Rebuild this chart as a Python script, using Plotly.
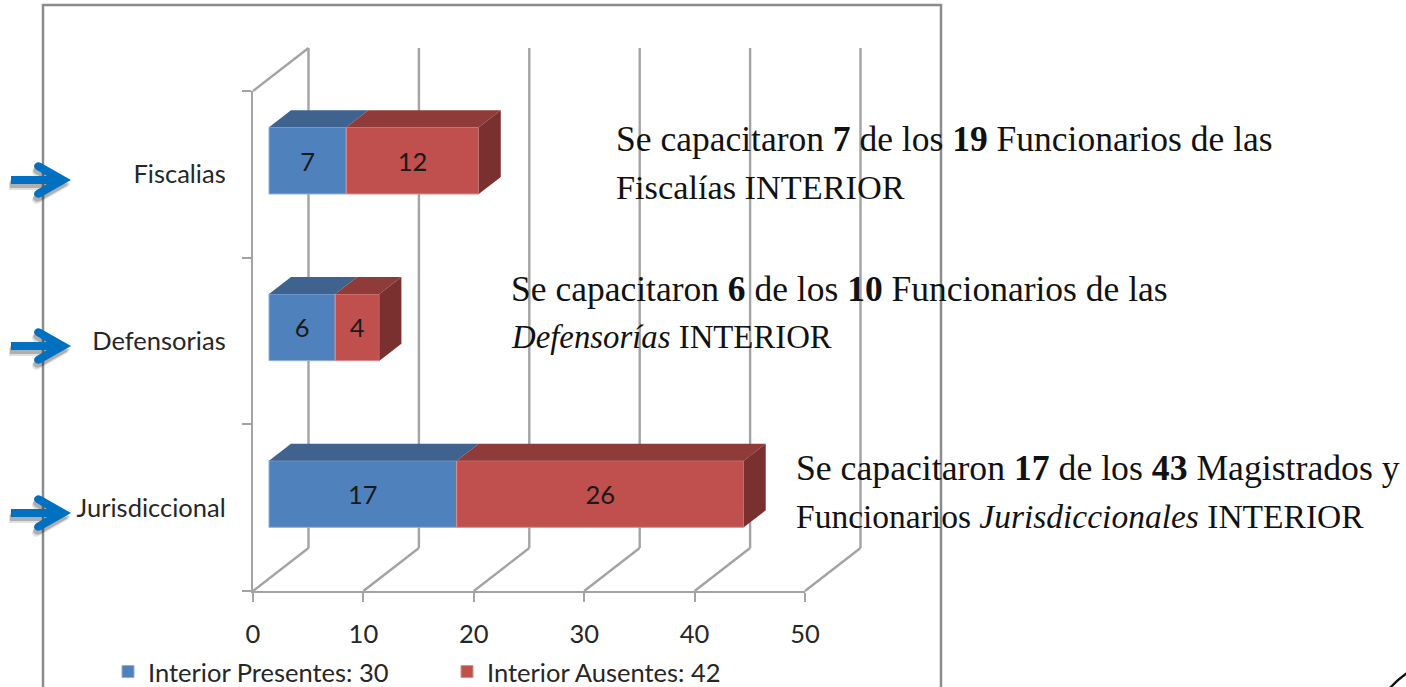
import plotly.graph_objects as go

categories = ["Jurisdiccional", "Defensorias", "Fiscalias"]
presentes = [17, 6, 7]
ausentes = [26, 4, 12]
legend_names = ["Interior Presentes: 30", "Interior Ausentes: 42"]
x_ticks = [0, 10, 20, 30, 40, 50]

note_lines = [
    "Se capacitaron <b>7</b> de los <b>19</b> Funcionarios de las",
    "Fiscalías INTERIOR",
    "Se capacitaron <b>6</b> de los <b>10</b> Funcionarios de las",
    "<i>Defensorías</i> INTERIOR",
    "Se capacitaron <b>17</b> de los <b>43</b> Magistrados y",
    "Funcionarios <i>Jurisdiccionales</i> INTERIOR",
]

NOTE_X = [616, 616, 511, 511, 796, 796]
NOTE_Y = [139, 187, 289, 337, 468, 516]
NOTE_SIZE = [35.5, 34.3, 35.5, 32.8, 35.7, 33.5]
ARROW_Y = [180, 346, 513]

W, H = 1406, 687
PX_X, PX_Y = 11.04, 166.67      # pixels per axis unit
X0, Y0 = 253, 591               # pixel of the axes origin
TOP = Y0 - 3 * PX_Y
RIGHT = 805

GRID = "#a3a3a3"
BLUE, BLUE_TOP = "#4f81bd", "#3f628f"
RED, RED_TOP, RED_SIDE = "#c0504d", "#8f3b39", "#7a302f"
CHART_FONT = "Lato"
CHART_SIZE = 25.5

centres = [0.582, 1.582, 2.582]
bar_h = 0.40
bar_off = 16 / PX_X
depth_x, depth_y = 22 / PX_X, 17 / PX_Y
wall_x, wall_y = 55.5 / PX_X, 43 / PX_Y
n_cat = len(categories)

fig = go.Figure()

# first subplot (drawn underneath): full-page axes with the chart's own scale, for the 3D walls
fig.add_scatter(x=[None], y=[None], xaxis="x", yaxis="y", showlegend=False, hoverinfo="skip")

starts_a = [bar_off + p for p in presentes]
fig.add_bar(y=centres, x=presentes, base=[bar_off] * n_cat, orientation="h", width=bar_h,
            xaxis="x2", yaxis="y2",
            marker=dict(color=BLUE, line=dict(color="#8fb0d8", width=1)), name=legend_names[0],
            text=presentes, textposition="inside", insidetextanchor="middle", textangle=0,
            hoverinfo="skip", cliponaxis=False)
fig.add_bar(y=centres, x=ausentes, base=starts_a, orientation="h", width=bar_h,
            xaxis="x2", yaxis="y2",
            marker=dict(color=RED, line=dict(color="#d58f8d", width=1)), name=legend_names[1],
            text=ausentes, textposition="inside", insidetextanchor="middle", textangle=0,
            hoverinfo="skip", cliponaxis=False)


def face(xs, ys, color):
    fig.add_scatter(x=xs, y=ys, xaxis="x2", yaxis="y2", mode="lines", fill="toself",
                    fillcolor=color, line=dict(width=0), showlegend=False, hoverinfo="skip",
                    cliponaxis=False)


for c, p, a, s in zip(centres, presentes, ausentes, starts_a):
    t = c + bar_h / 2
    b = c - bar_h / 2
    e = s + a
    face([bar_off, s, s + depth_x, bar_off + depth_x, bar_off],
         [t, t, t + depth_y, t + depth_y, t], BLUE_TOP)
    face([s, e, e + depth_x, s + depth_x, s],
         [t, t, t + depth_y, t + depth_y, t], RED_TOP)
    face([e, e + depth_x, e + depth_x, e, e],
         [t, t + depth_y, b + depth_y, b, t], RED_SIDE)

shapes = []
line = dict(color=GRID, width=2.4)
top_back = 3 + wall_y
for v in x_ticks:
    shapes.append(dict(type="line", xref="x", yref="y", x0=v, y0=0, x1=v + wall_x, y1=wall_y,
                       line=line, layer="below"))
    shapes.append(dict(type="line", xref="x", yref="y", x0=v + wall_x, y0=wall_y,
                       x1=v + wall_x, y1=top_back, line=line, layer="below"))
shapes.append(dict(type="line", xref="x", yref="y", x0=0, y0=3, x1=wall_x, y1=top_back,
                   line=line, layer="below"))

# picture frame, corner mark and arrows in pixel coordinates of the page
shapes.append(dict(type="path", xref="x3", yref="y3", layer="below",
                   path="M43 700 L43 5 L941 5 L941 700", line=dict(color="#8c8c8c", width=2.5)))
shapes.append(dict(type="path", xref="x3", yref="y3",
                   path="M1390 688 Q1397 680 1407 673", line=dict(color="#111111", width=2.5)))


def arrow(y, dx=0, dy=0):
    pts = [("M", 11, -4), ("L", 47, -4), ("L", 36, -10.5), ("Q", 32, -14, 36, -17),
           ("Q", 38, -18.5, 41, -17), ("L", 71, 0), ("L", 41, 17), ("Q", 38, 18.5, 36, 17),
           ("Q", 32, 14, 36, 10.5), ("L", 47, 4), ("L", 11, 4)]
    out = []
    for p in pts:
        nums = p[1:]
        coords = [str(n + (dx if i % 2 == 0 else y + dy)) for i, n in enumerate(nums)]
        out.append(p[0] + " ".join(coords))
    return " ".join(out) + " Z"


for y in ARROW_Y:
    for dx, dy, col in [(-2, 6, "rgba(0,0,0,0.12)"), (-1, 4, "rgba(0,0,0,0.22)")]:
        shapes.append(dict(type="path", xref="x3", yref="y3", path=arrow(y, dx, dy),
                           fillcolor=col, line=dict(width=0)))
    shapes.append(dict(type="path", xref="x3", yref="y3", path=arrow(y),
                       fillcolor="#0070c0", line=dict(width=0)))

annotations = [dict(text=t, xref="x3", yref="y3", x=x, y=y, xanchor="left", yanchor="middle",
                    showarrow=False, align="left", borderpad=0, borderwidth=0,
                    font=dict(family="Liberation Serif", size=s, color="#111111"))
               for t, x, y, s in zip(note_lines, NOTE_X, NOTE_Y, NOTE_SIZE)]

fig.add_scatter(x=[None], y=[None], xaxis="x3", yaxis="y3", showlegend=False, hoverinfo="skip")

fig.update_layout(
    width=W, height=H, margin=dict(l=0, r=0, t=0, b=0, autoexpand=False), autosize=False,
    paper_bgcolor="white", plot_bgcolor="rgba(0,0,0,0)", barmode="overlay",
    font=dict(family=CHART_FONT, size=CHART_SIZE, color="#262626"),
    shapes=shapes, annotations=annotations,
    xaxis=dict(domain=[0, 1], range=[-X0 / PX_X, (W - X0) / PX_X], visible=False, anchor="y"),
    yaxis=dict(domain=[0, 1], range=[-(H - Y0) / PX_Y, Y0 / PX_Y], visible=False, anchor="x"),
    xaxis2=dict(domain=[X0 / W, RIGHT / W], range=[0, (RIGHT - X0) / PX_X], anchor="y2",
                tickvals=x_ticks, ticks="outside", ticklen=9, tickwidth=2, tickcolor=GRID,
                showline=True, linecolor=GRID, linewidth=2.4, showgrid=False, zeroline=False,
                ticklabelstandoff=10, tickfont=dict(size=CHART_SIZE)),
    yaxis2=dict(domain=[(H - Y0) / H, (H - TOP) / H], range=[0, 3], anchor="x2",
                tickvals=[0.5, 1.5, 2.5], ticktext=categories, ticks="",
                minor=dict(tick0=0, dtick=1, ticks="outside", ticklen=9, tickwidth=2,
                           tickcolor=GRID, showgrid=False),
                showline=True, linecolor=GRID, linewidth=2.4, showgrid=False, zeroline=False,
                ticklabelstandoff=20, tickfont=dict(size=CHART_SIZE)),
    xaxis3=dict(domain=[0, 1], range=[0, W], visible=False, anchor="y3"),
    yaxis3=dict(domain=[0, 1], range=[H, 0], visible=False, anchor="x3"),
    legend=dict(orientation="h", x=108 / W, y=(H - 672) / H, xanchor="left", yanchor="middle",
                entrywidth=294, entrywidthmode="pixels", font=dict(size=CHART_SIZE),
                bgcolor="rgba(0,0,0,0)", traceorder="normal"),
)
fig.update_traces(textfont=dict(size=CHART_SIZE, color="#1a1a1a"), selector=dict(type="bar"))

fig.write_html("out.html", config={"displayModeBar": False},
               post_script="document.body.style.margin='0';document.body.style.overflow='hidden';")
